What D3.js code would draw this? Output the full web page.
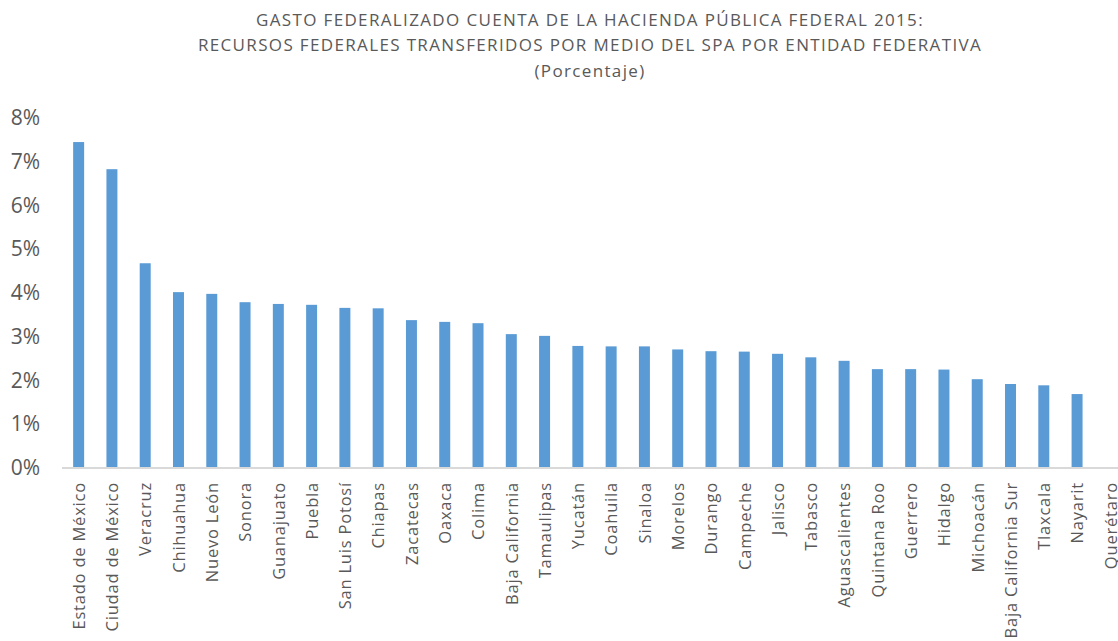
<!DOCTYPE html>
<html>
<head>
<meta charset="utf-8">
<script src="https://cdn.jsdelivr.net/npm/d3@7"></script>
<style>
  body { margin: 0; background: #fff; }
  text { font-family: "Open Sans", sans-serif; fill: #595959; }
</style>
</head>
<body>
<div id="chart"></div>
<script>
// data
var titleLines = [
    "GASTO FEDERALIZADO CUENTA DE LA HACIENDA PÚBLICA FEDERAL 2015:",
    "RECURSOS FEDERALES TRANSFERIDOS POR MEDIO DEL SPA POR ENTIDAD FEDERATIVA",
    "(Porcentaje)"
];
var states = ["Estado de México", "Ciudad de México", "Veracruz", "Chihuahua", "Nuevo León",
    "Sonora", "Guanajuato", "Puebla", "San Luis Potosí", "Chiapas", "Zacatecas", "Oaxaca",
    "Colima", "Baja California", "Tamaulipas", "Yucatán", "Coahuila", "Sinaloa", "Morelos",
    "Durango", "Campeche", "Jalisco", "Tabasco", "Aguascalientes", "Quintana Roo", "Guerrero",
    "Hidalgo", "Michoacán", "Baja California Sur", "Tlaxcala", "Nayarit", "Querétaro"];
var shares = [7.45, 6.83, 4.68, 4.02, 3.98, 3.79, 3.75, 3.73, 3.66, 3.65, 3.38, 3.34,
    3.31, 3.06, 3.02, 2.79, 2.78, 2.78, 2.71, 2.67, 2.66, 2.61, 2.53, 2.45, 2.26, 2.26,
    2.25, 2.03, 1.92, 1.89, 1.69, 0];
var yTicks = [0, 1, 2, 3, 4, 5, 6, 7, 8];

var data = states.map(function (s, i) { return { state: s, value: shares[i] }; });

var W = 1118, H = 641;
var x0 = 62, x1 = 1127, yTop = 118, yBase = 468;

var svg = d3.select("#chart")
    .append("svg")
    .attr("width", W)
    .attr("height", H);

// title
svg.selectAll(".title").data(titleLines)
    .enter()
    .append("text")
    .attr("class", "title")
    .attr("x", 590)
    .attr("y", function (d, i) { return 25.5 + i * 25.5; })
    .attr("text-anchor", "middle")
    .style("font-size", "17px")
    .style("letter-spacing", "1.35px")
    .text(function (d) { return d; });

var x = d3.scaleBand()
    .domain(states)
    .range([x0, x1])
    .paddingInner(0.67)
    .paddingOuter(0.335);

var y = d3.scaleLinear()
    .domain([0, 8])
    .range([yBase, yTop]);

// y axis labels
svg.append("g")
    .attr("transform", "translate(40,0)")
    .call(d3.axisLeft(y).tickValues(yTicks).tickSize(0).tickPadding(0)
        .tickFormat(function (d) { return d + "%"; }))
    .call(function (g) { g.select(".domain").remove(); })
    .selectAll("text")
    .style("font-size", "21px")
    .attr("fill", "#595959");

// bars
svg.selectAll(".bar").data(data)
    .enter()
    .append("rect")
    .attr("class", "bar")
    .attr("x", function (d) { return x(d.state); })
    .attr("width", x.bandwidth())
    .attr("y", function (d) { return y(d.value); })
    .attr("height", function (d) { return yBase - y(d.value); })
    .attr("fill", "#5B9BD5");

// x axis
var xAxis = svg.append("g")
    .attr("transform", "translate(0," + yBase + ")")
    .call(d3.axisBottom(x).tickSize(0).tickPadding(0));
xAxis.select(".domain")
    .attr("stroke", "#D9D9D9")
    .attr("stroke-width", 2)
    .attr("d", "M" + x0 + ",0H" + x1);
xAxis.selectAll("text")
    .style("font-size", "16.5px")
    .style("letter-spacing", "0.8px")
    .attr("fill", "#595959")
    .attr("text-anchor", "end")
    .attr("transform", "rotate(-90)")
    .attr("x", -14)
    .attr("y", 0.5)
    .attr("dy", "0.35em");
</script>
</body>
</html>
